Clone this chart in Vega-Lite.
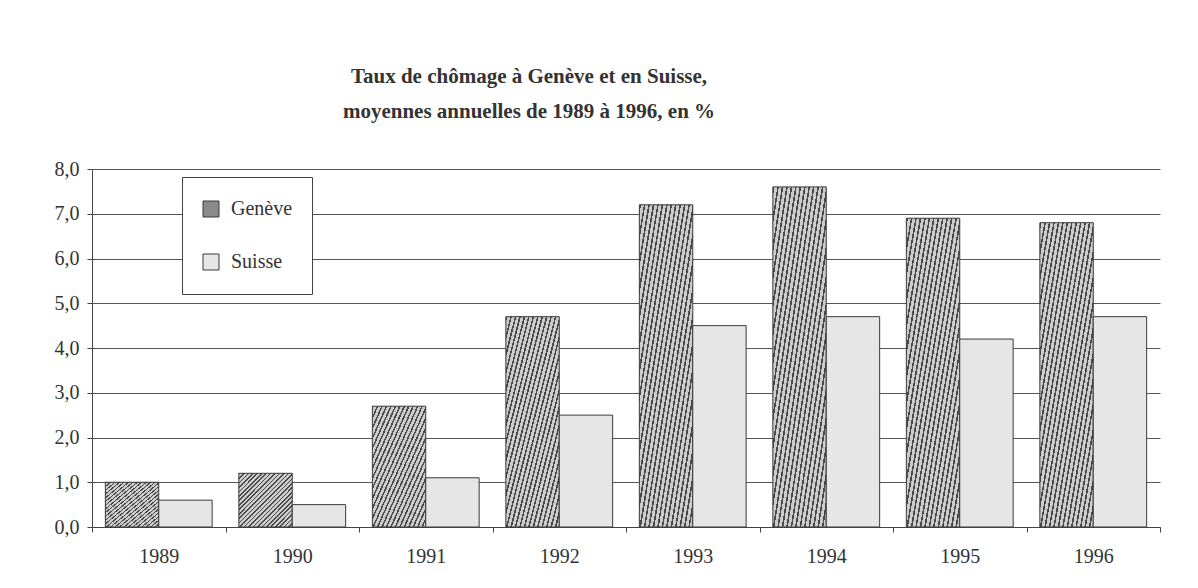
{
  "$schema": "https://vega.github.io/schema/vega-lite/v6.json",
  "autosize": {"type": "none"},
  "padding": {"left": 92, "top": 169, "right": 38, "bottom": 61},
  "width": 1068,
  "height": 358,
  "background": "white",
  "title": {
    "text": ["Taux de chômage à Genève et en Suisse,", "moyennes annuelles de 1989 à 1996, en %"],
    "font": "Liberation Serif",
    "fontSize": 21,
    "fontWeight": "bold",
    "color": "#333333",
    "lineHeight": 35,
    "anchor": "middle",
    "dx": -97,
    "offset": 37
  },
  "data": {
    "values": [
      {"annee": "1989", "region": "Genève", "taux": 1.0},
      {"annee": "1989", "region": "Suisse", "taux": 0.6},
      {"annee": "1990", "region": "Genève", "taux": 1.2},
      {"annee": "1990", "region": "Suisse", "taux": 0.5},
      {"annee": "1991", "region": "Genève", "taux": 2.7},
      {"annee": "1991", "region": "Suisse", "taux": 1.1},
      {"annee": "1992", "region": "Genève", "taux": 4.7},
      {"annee": "1992", "region": "Suisse", "taux": 2.5},
      {"annee": "1993", "region": "Genève", "taux": 7.2},
      {"annee": "1993", "region": "Suisse", "taux": 4.5},
      {"annee": "1994", "region": "Genève", "taux": 7.6},
      {"annee": "1994", "region": "Suisse", "taux": 4.7},
      {"annee": "1995", "region": "Genève", "taux": 6.9},
      {"annee": "1995", "region": "Suisse", "taux": 4.2},
      {"annee": "1996", "region": "Genève", "taux": 6.8},
      {"annee": "1996", "region": "Suisse", "taux": 4.7}
    ]
  },
  "mark": {"type": "bar", "stroke": "#3a3a3a", "strokeWidth": 1},
  "encoding": {
    "x": {
      "field": "annee",
      "type": "nominal",
      "title": null,
      "scale": {"paddingInner": 0, "paddingOuter": 0},
      "axis": {
        "labelAngle": 0,
        "tickBand": "extent",
        "grid": false,
        "domainColor": "#444444",
        "tickColor": "#444444",
        "tickSize": 5,
        "labelFont": "Liberation Serif",
        "labelFontSize": 20,
        "labelColor": "#333333",
        "labelPadding": 14
      }
    },
    "xOffset": {
      "field": "region",
      "type": "nominal",
      "scale": {"paddingInner": 0, "paddingOuter": 0.25}
    },
    "y": {
      "field": "taux",
      "type": "quantitative",
      "title": null,
      "scale": {"domain": [0, 8], "nice": false},
      "axis": {
        "values": [0, 1, 2, 3, 4, 5, 6, 7, 8],
        "labelExpr": "replace(format(datum.value, '.1f'), '.', ',')",
        "grid": true,
        "gridColor": "#555555",
        "gridOpacity": 1,
        "domainColor": "#444444",
        "tickColor": "#444444",
        "tickSize": 5,
        "labelFont": "Liberation Serif",
        "labelFontSize": 20,
        "labelColor": "#333333",
        "labelPadding": 8
      }
    },
    "fill": {
      "condition": {
        "test": "datum.region === 'Genève'",
        "value": {
          "gradient": "linear", "x1": 0, "y1": 0, "x2": 1, "y2": 1,
          "stops": [
            {"offset": 0, "color": "#4a4a4a"}, {"offset": 0.015, "color": "#4a4a4a"}, {"offset": 0.015, "color": "#cccccc"}, {"offset": 0.0417, "color": "#cccccc"},
            {"offset": 0.0417, "color": "#4a4a4a"}, {"offset": 0.0567, "color": "#4a4a4a"}, {"offset": 0.0567, "color": "#cccccc"}, {"offset": 0.0833, "color": "#cccccc"},
            {"offset": 0.0833, "color": "#4a4a4a"}, {"offset": 0.0983, "color": "#4a4a4a"}, {"offset": 0.0983, "color": "#cccccc"}, {"offset": 0.125, "color": "#cccccc"},
            {"offset": 0.125, "color": "#4a4a4a"}, {"offset": 0.14, "color": "#4a4a4a"}, {"offset": 0.14, "color": "#cccccc"}, {"offset": 0.1667, "color": "#cccccc"},
            {"offset": 0.1667, "color": "#4a4a4a"}, {"offset": 0.1817, "color": "#4a4a4a"}, {"offset": 0.1817, "color": "#cccccc"}, {"offset": 0.2083, "color": "#cccccc"},
            {"offset": 0.2083, "color": "#4a4a4a"}, {"offset": 0.2233, "color": "#4a4a4a"}, {"offset": 0.2233, "color": "#cccccc"}, {"offset": 0.25, "color": "#cccccc"},
            {"offset": 0.25, "color": "#4a4a4a"}, {"offset": 0.265, "color": "#4a4a4a"}, {"offset": 0.265, "color": "#cccccc"}, {"offset": 0.2917, "color": "#cccccc"},
            {"offset": 0.2917, "color": "#4a4a4a"}, {"offset": 0.3067, "color": "#4a4a4a"}, {"offset": 0.3067, "color": "#cccccc"}, {"offset": 0.3333, "color": "#cccccc"},
            {"offset": 0.3333, "color": "#4a4a4a"}, {"offset": 0.3483, "color": "#4a4a4a"}, {"offset": 0.3483, "color": "#cccccc"}, {"offset": 0.375, "color": "#cccccc"},
            {"offset": 0.375, "color": "#4a4a4a"}, {"offset": 0.39, "color": "#4a4a4a"}, {"offset": 0.39, "color": "#cccccc"}, {"offset": 0.4167, "color": "#cccccc"},
            {"offset": 0.4167, "color": "#4a4a4a"}, {"offset": 0.4317, "color": "#4a4a4a"}, {"offset": 0.4317, "color": "#cccccc"}, {"offset": 0.4583, "color": "#cccccc"},
            {"offset": 0.4583, "color": "#4a4a4a"}, {"offset": 0.4733, "color": "#4a4a4a"}, {"offset": 0.4733, "color": "#cccccc"}, {"offset": 0.5, "color": "#cccccc"},
            {"offset": 0.5, "color": "#4a4a4a"}, {"offset": 0.515, "color": "#4a4a4a"}, {"offset": 0.515, "color": "#cccccc"}, {"offset": 0.5417, "color": "#cccccc"},
            {"offset": 0.5417, "color": "#4a4a4a"}, {"offset": 0.5567, "color": "#4a4a4a"}, {"offset": 0.5567, "color": "#cccccc"}, {"offset": 0.5833, "color": "#cccccc"},
            {"offset": 0.5833, "color": "#4a4a4a"}, {"offset": 0.5983, "color": "#4a4a4a"}, {"offset": 0.5983, "color": "#cccccc"}, {"offset": 0.625, "color": "#cccccc"},
            {"offset": 0.625, "color": "#4a4a4a"}, {"offset": 0.64, "color": "#4a4a4a"}, {"offset": 0.64, "color": "#cccccc"}, {"offset": 0.6667, "color": "#cccccc"},
            {"offset": 0.6667, "color": "#4a4a4a"}, {"offset": 0.6817, "color": "#4a4a4a"}, {"offset": 0.6817, "color": "#cccccc"}, {"offset": 0.7083, "color": "#cccccc"},
            {"offset": 0.7083, "color": "#4a4a4a"}, {"offset": 0.7233, "color": "#4a4a4a"}, {"offset": 0.7233, "color": "#cccccc"}, {"offset": 0.75, "color": "#cccccc"},
            {"offset": 0.75, "color": "#4a4a4a"}, {"offset": 0.765, "color": "#4a4a4a"}, {"offset": 0.765, "color": "#cccccc"}, {"offset": 0.7917, "color": "#cccccc"},
            {"offset": 0.7917, "color": "#4a4a4a"}, {"offset": 0.8067, "color": "#4a4a4a"}, {"offset": 0.8067, "color": "#cccccc"}, {"offset": 0.8333, "color": "#cccccc"},
            {"offset": 0.8333, "color": "#4a4a4a"}, {"offset": 0.8483, "color": "#4a4a4a"}, {"offset": 0.8483, "color": "#cccccc"}, {"offset": 0.875, "color": "#cccccc"},
            {"offset": 0.875, "color": "#4a4a4a"}, {"offset": 0.89, "color": "#4a4a4a"}, {"offset": 0.89, "color": "#cccccc"}, {"offset": 0.9167, "color": "#cccccc"},
            {"offset": 0.9167, "color": "#4a4a4a"}, {"offset": 0.9317, "color": "#4a4a4a"}, {"offset": 0.9317, "color": "#cccccc"}, {"offset": 0.9583, "color": "#cccccc"},
            {"offset": 0.9583, "color": "#4a4a4a"}, {"offset": 0.9733, "color": "#4a4a4a"}, {"offset": 0.9733, "color": "#cccccc"}, {"offset": 1, "color": "#cccccc"}
          ]
        }
      },
      "field": "region",
      "type": "nominal",
      "scale": {"domain": ["Genève", "Suisse"], "range": ["#8a8a8a", "#e6e6e6"]},
      "legend": {
        "title": null,
        "orient": "none",
        "legendX": 90,
        "legendY": 8,
        "padding": 19,
        "fillColor": "white",
        "strokeColor": "#444444",
        "symbolType": "square",
        "symbolSize": 256,
        "symbolStrokeColor": "#3a3a3a",
        "symbolStrokeWidth": 1,
        "labelFont": "Liberation Serif",
        "labelFontSize": 20,
        "labelColor": "#333333",
        "labelOffset": 10,
        "clipHeight": 26,
        "rowPadding": 27
      }
    }
  },
  "config": {
    "view": {"stroke": null},
    "axis": {"domainWidth": 1, "tickWidth": 1, "gridWidth": 1}
  }
}
